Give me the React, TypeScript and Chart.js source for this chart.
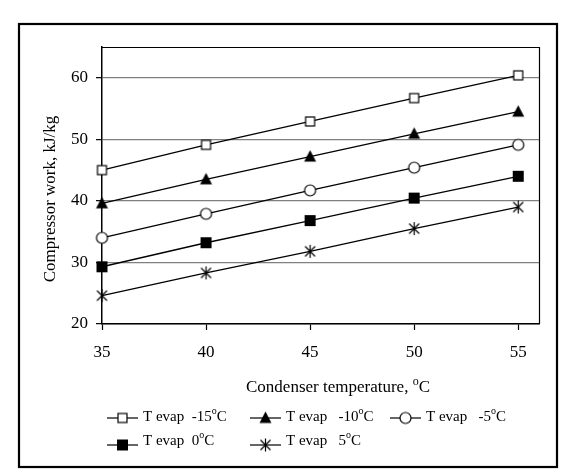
import React, { useEffect, useRef } from 'react';
import { Chart, registerables } from 'chart.js';

Chart.register(...registerables);

// Condenser temperature (°C) on the x axis
const condenserTemps = [35, 40, 45, 50, 55];

// Compressor work (kJ/kg) for each evaporator temperature
const workEvapMinus15 = [45.0, 49.1, 52.9, 56.7, 60.4];
const workEvapMinus10 = [39.6, 43.5, 47.2, 50.9, 54.5];
const workEvapMinus5 = [34.0, 37.9, 41.7, 45.4, 49.1];
const workEvap0 = [29.3, 33.2, 36.8, 40.45, 44.0];
const workEvap5 = [24.6, 28.3, 31.8, 35.5, 39.0];

// Legend text (the degree sign is drawn raised after each label)
const seriesLabels = ['T evap  -15', 'T evap   -10', 'T evap   -5', 'T evap  0', 'T evap   5'];
const markerKinds = ['openSquare', 'triangle', 'openCircle', 'filledSquare', 'asterisk'];

const yTicks = [20, 30, 40, 50, 60];
const xTicks = [35, 40, 45, 50, 55];

const SERIF = '"Liberation Serif", "Times New Roman", serif';

function makeMarker(kind: string): HTMLCanvasElement {
  const c = document.createElement('canvas');
  c.width = 17;
  c.height = 17;
  const g = c.getContext('2d')!;
  const m = 8.5;
  g.strokeStyle = '#000';
  g.fillStyle = '#000';
  g.lineWidth = 1.2;
  switch (kind) {
    case 'openSquare':
      g.fillStyle = '#fff';
      g.fillRect(m - 4.5, m - 4.5, 9, 9);
      g.strokeRect(m - 4.5, m - 4.5, 9, 9);
      break;
    case 'triangle':
      g.beginPath();
      g.moveTo(m, m - 6.5);
      g.lineTo(m + 6, m + 5);
      g.lineTo(m - 6, m + 5);
      g.closePath();
      g.fill();
      break;
    case 'openCircle':
      g.beginPath();
      g.arc(m, m, 5.5, 0, Math.PI * 2);
      g.fillStyle = '#fff';
      g.fill();
      g.stroke();
      break;
    case 'filledSquare':
      g.fillRect(m - 5.5, m - 5.5, 11, 11);
      break;
    case 'asterisk':
      g.beginPath();
      g.moveTo(m - 5, m - 5);
      g.lineTo(m + 5, m + 5);
      g.moveTo(m + 5, m - 5);
      g.lineTo(m - 5, m + 5);
      g.moveTo(m, m - 6.5);
      g.lineTo(m, m + 6.5);
      g.stroke();
      break;
  }
  return c;
}

// Draws "prefix" followed by a raised small "o" and "C"
function drawDegreeText(
  ctx: CanvasRenderingContext2D,
  prefix: string,
  x: number,
  y: number,
  size: number,
  supSize: number,
  align: 'left' | 'center'
) {
  const mainFont = `${size}px ${SERIF}`;
  const supFont = `${supSize}px ${SERIF}`;
  ctx.textBaseline = 'middle';
  ctx.textAlign = 'left';
  ctx.font = mainFont;
  const wPrefix = ctx.measureText(prefix).width;
  const wC = ctx.measureText('C').width;
  ctx.font = supFont;
  const wO = ctx.measureText('o').width;
  const total = wPrefix + wO + wC;
  let cx = align === 'center' ? x - total / 2 : x;
  ctx.font = mainFont;
  ctx.fillText(prefix, cx, y);
  cx += wPrefix;
  ctx.font = supFont;
  ctx.fillText('o', cx, y - size * 0.38);
  cx += wO;
  ctx.font = mainFont;
  ctx.fillText('C', cx, y);
}

export default function App() {
  const canvasRef = useRef<HTMLCanvasElement | null>(null);

  useEffect(() => {
    const canvas = canvasRef.current;
    if (!canvas) return;
    const markers = markerKinds.map(makeMarker);
    const seriesValues = [workEvapMinus15, workEvapMinus10, workEvapMinus5, workEvap0, workEvap5];

    const decorations = {
      id: 'decorations',
      beforeDraw(chart: any) {
        const { ctx } = chart;
        ctx.save();
        ctx.fillStyle = '#fff';
        ctx.fillRect(0, 0, chart.width, chart.height);
        ctx.restore();
      },
      afterDraw(chart: any) {
        const { ctx, chartArea: a } = chart;
        ctx.save();
        ctx.fillStyle = '#000';
        ctx.strokeStyle = '#000';

        // plot frame: top and right edges
        ctx.lineWidth = 1.2;
        ctx.beginPath();
        ctx.moveTo(a.left, a.top + 0.5);
        ctx.lineTo(a.right + 0.5, a.top + 0.5);
        ctx.lineTo(a.right + 0.5, a.bottom);
        ctx.stroke();

        // outer frame around the figure
        ctx.lineWidth = 2.2;
        ctx.strokeRect(19, 24, 538, 443);

        // y axis title
        ctx.save();
        ctx.translate(51, 199);
        ctx.rotate(-Math.PI / 2);
        ctx.font = `17px ${SERIF}`;
        ctx.textAlign = 'center';
        ctx.textBaseline = 'middle';
        ctx.fillText('Compressor work, kJ/kg', 0, 0);
        ctx.restore();

        // x axis title
        drawDegreeText(ctx, 'Condenser temperature, ', 338, 388, 17, 12, 'center');

        // legend in a 3-column grid
        const cols = [107, 250, 390];
        const rows = [418, 445];
        seriesLabels.forEach((label, i) => {
          const lx = cols[i % 3];
          const ly = rows[Math.floor(i / 3)];
          ctx.lineWidth = 1.2;
          ctx.beginPath();
          ctx.moveTo(lx, ly);
          ctx.lineTo(lx + 31, ly);
          ctx.stroke();
          const mk = markers[i];
          ctx.drawImage(mk, lx + 15.5 - mk.width / 2, ly - mk.height / 2);
          const ty = i < 3 ? ly - 1 : ly - 4;
          drawDegreeText(ctx, label, lx + 36, ty, 15, 10, 'left');
        });
        ctx.restore();
      },
    };

    const chart = new Chart(canvas, {
      type: 'line',
      data: {
        datasets: seriesValues.map((vals, i) => ({
          label: seriesLabels[i],
          data: condenserTemps.map((t, j) => ({ x: t, y: vals[j] })),
          borderColor: '#000',
          borderWidth: 1.3,
          pointStyle: markers[i],
          pointRadius: 6,
          pointHoverRadius: 6,
          backgroundColor: '#000',
          tension: 0,
          clip: false,
        })),
      },
      options: {
        animation: false,
        responsive: false,
        devicePixelRatio: 1,
        layout: { padding: { top: 47, left: 0, right: 31, bottom: 0 } },
        plugins: {
          legend: { display: false },
          tooltip: { enabled: false },
        },
        scales: {
          x: {
            type: 'linear',
            min: 35,
            max: 56,
            afterBuildTicks: (s: any) => {
              s.ticks = xTicks.map((v) => ({ value: v }));
            },
            afterFit: (s: any) => {
              s.height = 147;
            },
            ticks: {
              color: '#000',
              font: { family: SERIF, size: 17 },
              padding: 12,
              maxRotation: 0,
            },
            grid: {
              drawOnChartArea: false,
              drawTicks: true,
              tickLength: 6,
              tickColor: '#000',
              tickWidth: 1.2,
            },
            border: { display: true, color: '#000', width: 1.5 },
          },
          y: {
            type: 'linear',
            min: 20,
            max: 65,
            afterBuildTicks: (s: any) => {
              s.ticks = yTicks.map((v) => ({ value: v }));
            },
            afterFit: (s: any) => {
              s.width = 102;
            },
            ticks: {
              color: '#000',
              font: { family: SERIF, size: 17 },
              padding: 8,
            },
            grid: {
              color: '#808080',
              lineWidth: 1.3,
              drawTicks: true,
              tickLength: 6,
              tickColor: '#000',
              tickWidth: 1.2,
            },
            border: { display: true, color: '#000', width: 1.5 },
          },
        },
      },
      plugins: [decorations],
    } as any);

    return () => chart.destroy();
  }, []);

  return (
    <div style={{ position: 'absolute', left: 0, top: 0, width: 570, height: 471, background: '#fff' }}>
      <canvas ref={canvasRef} width={570} height={471} style={{ display: 'block' }} />
    </div>
  );
}
